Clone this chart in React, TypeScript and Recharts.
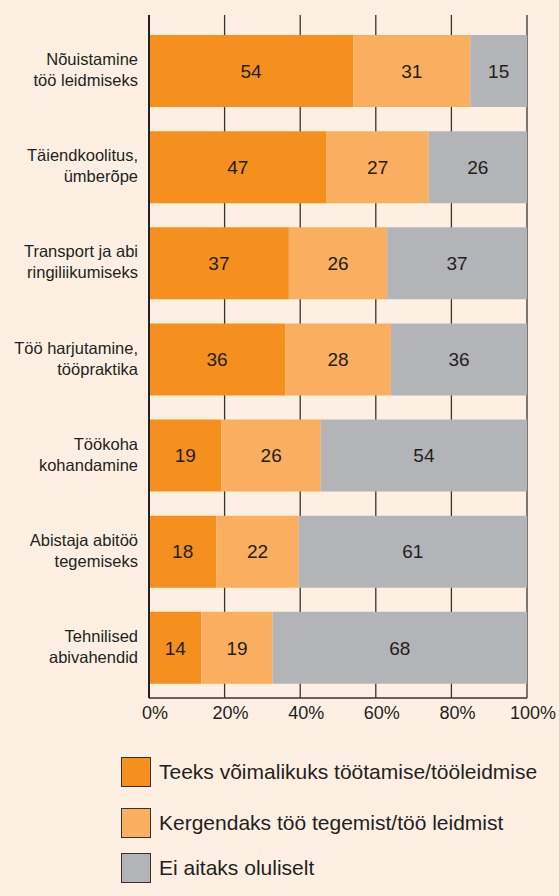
import { BarChart, Bar, XAxis, YAxis, CartesianGrid, LabelList } from 'recharts';

const categories = [
  ['Nõuistamine', 'töö leidmiseks'],
  ['Täiendkoolitus,', 'ümberõpe'],
  ['Transport ja abi', 'ringiliikumiseks'],
  ['Töö harjutamine,', 'tööpraktika'],
  ['Töökoha', 'kohandamine'],
  ['Abistaja abitöö', 'tegemiseks'],
  ['Tehnilised', 'abivahendid'],
];
const possible = [54, 47, 37, 36, 19, 18, 14];
const easier = [31, 27, 26, 28, 26, 22, 19];
const notMuch = [15, 26, 37, 36, 54, 61, 68];
const xTicks = [0, 0.2, 0.4, 0.6, 0.8, 1];

const seriesNames = [
  'Teeks võimalikuks töötamise/tööleidmise',
  'Kergendaks töö tegemist/töö leidmist',
  'Ei aitaks oluliselt',
];
const colors = ['#F5901F', '#FAAE60', '#B3B4B7'];
const ink = '#231F20';
const bg = '#FDF0E3';

const data = categories.map((c, i) => ({
  name: c.join('\n'),
  a: possible[i],
  b: easier[i],
  c: notMuch[i],
}));

const font = '"Liberation Sans", Arial, Helvetica, sans-serif';

const YTick = ({ x, y, payload }: any) => {
  const lines = String(payload.value).split('\n');
  return (
    <text x={x - 11} y={y} textAnchor="end" fontSize={16.5} fill={ink} fontFamily={font}>
      <tspan x={x - 11} y={y - 6}>{lines[0]}</tspan>
      <tspan x={x - 11} y={y + 15}>{lines[1]}</tspan>
    </text>
  );
};

const XTick = ({ x, y, payload }: any) => (
  <text x={x + 6} y={y + 21} textAnchor="middle" fontSize={18} fill={ink} fontFamily={font}>
    {Math.round(payload.value * 100)}%
  </text>
);

const legendTops = [757, 808, 853];

export default function App() {
  return (
    <div style={{ position: 'absolute', left: 0, top: 0, width: 559, height: 896, background: bg, fontFamily: font }}>
      <BarChart
        width={559}
        height={728}
        data={data}
        layout="vertical"
        stackOffset="expand"
        margin={{ top: 15, right: 32, bottom: 0, left: 0 }}
      >
        <CartesianGrid horizontal={false} stroke="#333" strokeWidth={1.3} />
        <XAxis
          type="number"
          domain={[0, 1]}
          ticks={xTicks}
          height={30}
          tickLine={false}
          tickSize={0}
          tickMargin={0}
          axisLine={{ stroke: '#333', strokeWidth: 1.3 }}
          tick={<XTick />}
          interval={0}
        />
        <YAxis
          type="category"
          dataKey="name"
          width={149}
          padding={{ top: 8, bottom: 2 }}
          tickLine={false}
          tickSize={0}
          tickMargin={0}
          axisLine={{ stroke: '#222', strokeWidth: 2 }}
          tick={<YTick />}
          interval={0}
        />
        {(['a', 'b', 'c'] as const).map((k, i) => (
          <Bar key={k} dataKey={k} stackId="s" fill={colors[i]} barSize={72} isAnimationActive={false}>
            <LabelList dataKey={k} position="center" fontSize={19} fill={ink} fontFamily={font} />
          </Bar>
        ))}
      </BarChart>
      {seriesNames.map((n, i) => (
        <div key={n} style={{ position: 'absolute', left: 121, top: legendTops[i], display: 'flex', alignItems: 'center' }}>
          <div style={{ width: 28, height: 28, background: colors[i], border: '1px solid #3a3030' }} />
          <span style={{ marginLeft: 8, fontSize: 21, color: ink, whiteSpace: 'nowrap' }}>{n}</span>
        </div>
      ))}
    </div>
  );
}
